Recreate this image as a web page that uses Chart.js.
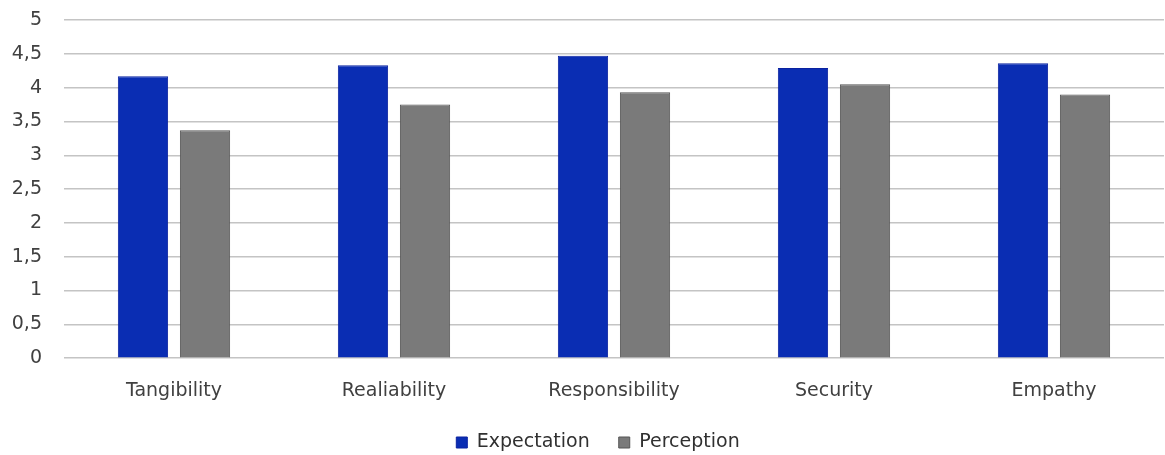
<!DOCTYPE html>
<html>
<head>
<meta charset="utf-8">
<script src="https://cdn.jsdelivr.net/npm/chart.js@4/dist/chart.umd.min.js"></script>
<style>
html,body{margin:0;padding:0;background:#fff;}
#wrap{width:1165px;height:455px;position:relative;}
</style>
</head>
<body>
<div id="wrap"><canvas id="c"></canvas></div>
<script>
const categories = ["Tangibility", "Realiability", "Responsibility", "Security", "Empathy"];
const expectation = [4.17, 4.33, 4.47, 4.29, 4.36];
const perception = [3.37, 3.75, 3.93, 4.05, 3.90];
const seriesNames = ["Expectation", "Perception"];

Chart.defaults.font.family = "'DejaVu Sans', sans-serif";
Chart.defaults.font.size = 19;
Chart.defaults.color = "#404040";

const chart = new Chart(document.getElementById("c"), {
  type: "bar",
  data: {
    labels: categories,
    datasets: [
      {label: seriesNames[0], data: expectation, backgroundColor: "#0A2DB3", borderColor: "#0A22A0", borderWidth: 1,
       barPercentage: 0.81, categoryPercentage: 0.564},
      {label: seriesNames[1], data: perception, backgroundColor: "#7A7A7A", borderColor: "#555555", borderWidth: 1,
       barPercentage: 0.81, categoryPercentage: 0.564}
    ]
  },
  options: {
    responsive: true,
    maintainAspectRatio: false,
    animation: false,
    layout: {padding: {top: 20, right: 1, left: 0, bottom: 0}},
    scales: {
      x: {
        grid: {display: false, drawTicks: false},
        border: {display: false},
        ticks: {padding: 21, color: "#404040"}
      },
      y: {
        min: 0, max: 5,
        afterFit: (s) => { s.width = 64; s.paddingTop = 0; s.paddingBottom = 0; },
        grid: {color: "#C4C4C4", lineWidth: 1.5, drawTicks: false},
        border: {display: false},
        ticks: {
          stepSize: 0.5, padding: 22, color: "#404040",
          callback: (v) => String(v).replace(".", ",")
        }
      }
    },
    plugins: {
      legend: {
        position: "bottom",
        labels: {boxWidth: 11, boxHeight: 11, padding: 29, color: "#303030"}
      },
      tooltip: {enabled: false}
    }
  }
});

// tighten the legend's vertical footprint while keeping the wide horizontal item gap
const lg = chart.legend;
const origFit = lg.fit.bind(lg);
lg.fit = function () { origFit(); this.height -= 26; };
const origInnerDraw = lg._draw.bind(lg);
lg._draw = function () {
  const ctx = this.ctx;
  ctx.save();
  ctx.translate(16, -19);
  origInnerDraw();
  ctx.restore();
};
chart.update();
</script>
</body>
</html>
